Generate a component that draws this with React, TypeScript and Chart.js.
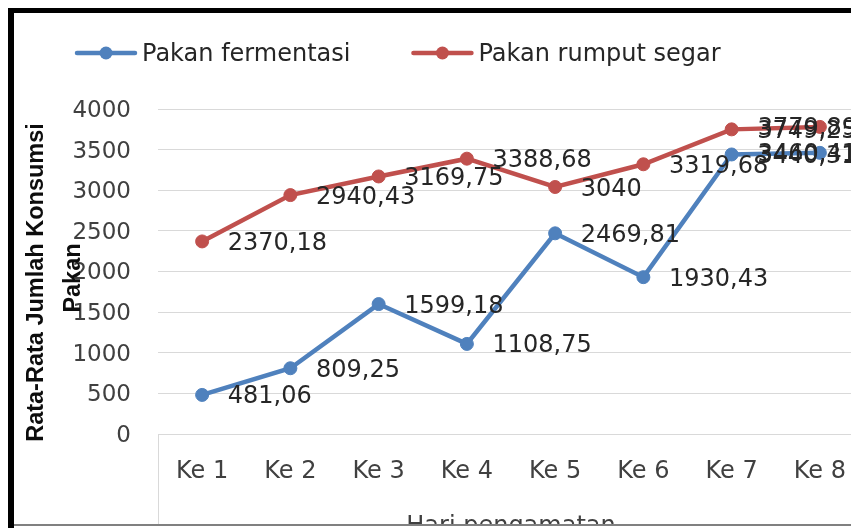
import React, { useEffect, useRef } from "react";
import { Chart, registerables } from "chart.js";

Chart.register(...registerables);

const categories = ["Ke 1", "Ke 2", "Ke 3", "Ke 4", "Ke 5", "Ke 6", "Ke 7", "Ke 8"];
const pakanFermentasi = [481.06, 809.25, 1599.18, 1108.75, 2469.81, 1930.43, 3440.31, 3460.41];
const pakanRumputSegar = [2370.18, 2940.43, 3169.75, 3388.68, 3040, 3319.68, 3749.25, 3779.89];
const seriesNames = ["Pakan fermentasi", "Pakan rumput segar"];
const seriesColors = ["#4F81BD", "#C0504D"];
const yTicks = [0, 500, 1000, 1500, 2000, 2500, 3000, 3500, 4000];
const yTitleLines = ["Rata-Rata Jumlah Konsumsi", "Pakan"];
const xTitle = "Hari pengamatan";

const FONT = '"DejaVu Sans", sans-serif';
const CANVAS_W = 880;
const CANVAS_H = 560;

const formatValue = (v: number) => String(v).replace(".", ",");

const dataLabelPlugin = {
  id: "dataLabels",
  afterDatasetsDraw(chart: any) {
    const ctx = chart.ctx;
    ctx.save();
    ctx.font = `24px ${FONT}`;
    ctx.fillStyle = "#262626";
    ctx.textBaseline = "middle";
    ctx.textAlign = "left";
    const maxRight = chart.width - 23;
    chart.data.datasets.forEach((ds: any, i: number) => {
      const meta = chart.getDatasetMeta(i);
      meta.data.forEach((pt: any, j: number) => {
        const text = formatValue(ds.data[j]);
        const w = ctx.measureText(text).width;
        let x = pt.x + 25.6;
        if (x + w > maxRight) x = maxRight - w;
        ctx.fillText(text, x, pt.y + 2.3);
      });
    });
    ctx.restore();
  },
};

const decorPlugin = {
  id: "decor",
  afterDraw(chart: any) {
    const ctx = chart.ctx;
    const area = chart.chartArea;
    ctx.save();
    // vertical line below the category axis
    ctx.strokeStyle = "#d9d9d9";
    ctx.lineWidth = 1;
    ctx.beginPath();
    ctx.moveTo(Math.round(area.left) + 0.5, area.bottom);
    ctx.lineTo(Math.round(area.left) + 0.5, chart.height);
    ctx.stroke();

    // legend
    ctx.font = `24px ${FONT}`;
    ctx.textBaseline = "middle";
    ctx.textAlign = "left";
    let x = 75;
    const y = 53;
    chart.data.datasets.forEach((ds: any) => {
      ctx.strokeStyle = ds.borderColor;
      ctx.fillStyle = ds.borderColor;
      ctx.lineWidth = 4.5;
      ctx.lineCap = "round";
      ctx.beginPath();
      ctx.moveTo(x + 2, y);
      ctx.lineTo(x + 60, y);
      ctx.stroke();
      ctx.beginPath();
      ctx.arc(x + 31, y, 6.5, 0, Math.PI * 2);
      ctx.fill();
      ctx.fillStyle = "#262626";
      const tx = x + 67;
      ctx.fillText(ds.label, tx, y + 1.6);
      x = tx + ctx.measureText(ds.label).width + 61;
    });

    // y-axis title (two lines)
    ctx.fillStyle = "#0d0d0d";
    ctx.font = `bold 23.5px "Liberation Sans", sans-serif`;
    ctx.textAlign = "center";
    ctx.textBaseline = "alphabetic";
    const pos = [
      [43, 282.5],
      [80, 278],
    ];
    yTitleLines.forEach((line, i) => {
      ctx.save();
      ctx.translate(pos[i][0], pos[i][1]);
      ctx.rotate(-Math.PI / 2);
      ctx.fillText(line, 0, 0);
      ctx.restore();
    });
    ctx.restore();
  },
};

export default function App() {
  const canvasRef = useRef<HTMLCanvasElement | null>(null);

  useEffect(() => {
    const canvas = canvasRef.current;
    if (!canvas) return;
    Chart.defaults.font.family = FONT;
    const chart = new Chart(canvas, {
      type: "line",
      data: {
        labels: categories,
        datasets: [
          {
            label: seriesNames[0],
            data: pakanFermentasi,
            borderColor: seriesColors[0],
            backgroundColor: seriesColors[0],
            pointBackgroundColor: seriesColors[0],
            pointBorderColor: seriesColors[0],
            borderWidth: 4.5,
            pointRadius: 6.5,
            pointBorderWidth: 1,
            tension: 0,
            clip: false as any,
          },
          {
            label: seriesNames[1],
            data: pakanRumputSegar,
            borderColor: seriesColors[1],
            backgroundColor: seriesColors[1],
            pointBackgroundColor: seriesColors[1],
            pointBorderColor: seriesColors[1],
            borderWidth: 4.5,
            pointRadius: 6.5,
            pointBorderWidth: 1,
            tension: 0,
            clip: false as any,
          },
        ],
      },
      options: {
        animation: false,
        responsive: false,
        devicePixelRatio: 1,
        layout: { padding: { top: 109, right: 16, bottom: 0, left: 0 } },
        plugins: {
          legend: { display: false },
          tooltip: { enabled: false },
        },
        scales: {
          x: {
            offset: true,
            grid: { display: false, drawTicks: false },
            border: { display: true, color: "#d9d9d9", width: 1 },
            ticks: {
              color: "#404040",
              font: { size: 24, family: FONT },
              padding: 23,
              maxRotation: 0,
              autoSkip: false,
            },
            title: {
              display: true,
              text: xTitle,
              color: "#404040",
              font: { size: 24, family: FONT },
              padding: { top: 0, bottom: 18.5 },
            },
            afterFit: (scale: any) => {
              scale.height = CANVAS_H - 434;
            },
          },
          y: {
            min: yTicks[0],
            max: yTicks[yTicks.length - 1],
            grid: { color: "#d9d9d9", lineWidth: 1, drawTicks: false },
            border: { display: false },
            ticks: {
              stepSize: yTicks[1] - yTicks[0],
              color: "#404040",
              font: { size: 23, family: FONT },
              padding: 27,
              labelOffset: 2,
              callback: (value: any) => String(value),
            },
            afterFit: (scale: any) => {
              scale.width = 158;
            },
          },
        },
      },
      plugins: [dataLabelPlugin, decorPlugin],
    });
    return () => chart.destroy();
  }, []);

  return (
    <div
      style={{
        position: "fixed",
        left: 0,
        top: 0,
        width: 851,
        height: 528,
        overflow: "hidden",
        background: "#fff",
      }}
    >
      <canvas
        ref={canvasRef}
        width={CANVAS_W}
        height={CANVAS_H}
        style={{ position: "absolute", left: 0, top: 0, width: CANVAS_W, height: CANVAS_H }}
      />
      <div style={{ position: "absolute", left: 8, top: 8, width: 6, height: 520, background: "#000" }} />
      <div style={{ position: "absolute", left: 8, top: 8, width: 843, height: 5, background: "#000" }} />
      <div style={{ position: "absolute", left: 14, top: 524, width: 837, height: 2, background: "#808080" }} />
      <div style={{ position: "absolute", left: 14, top: 526, width: 837, height: 2, background: "#fff" }} />
    </div>
  );
}
